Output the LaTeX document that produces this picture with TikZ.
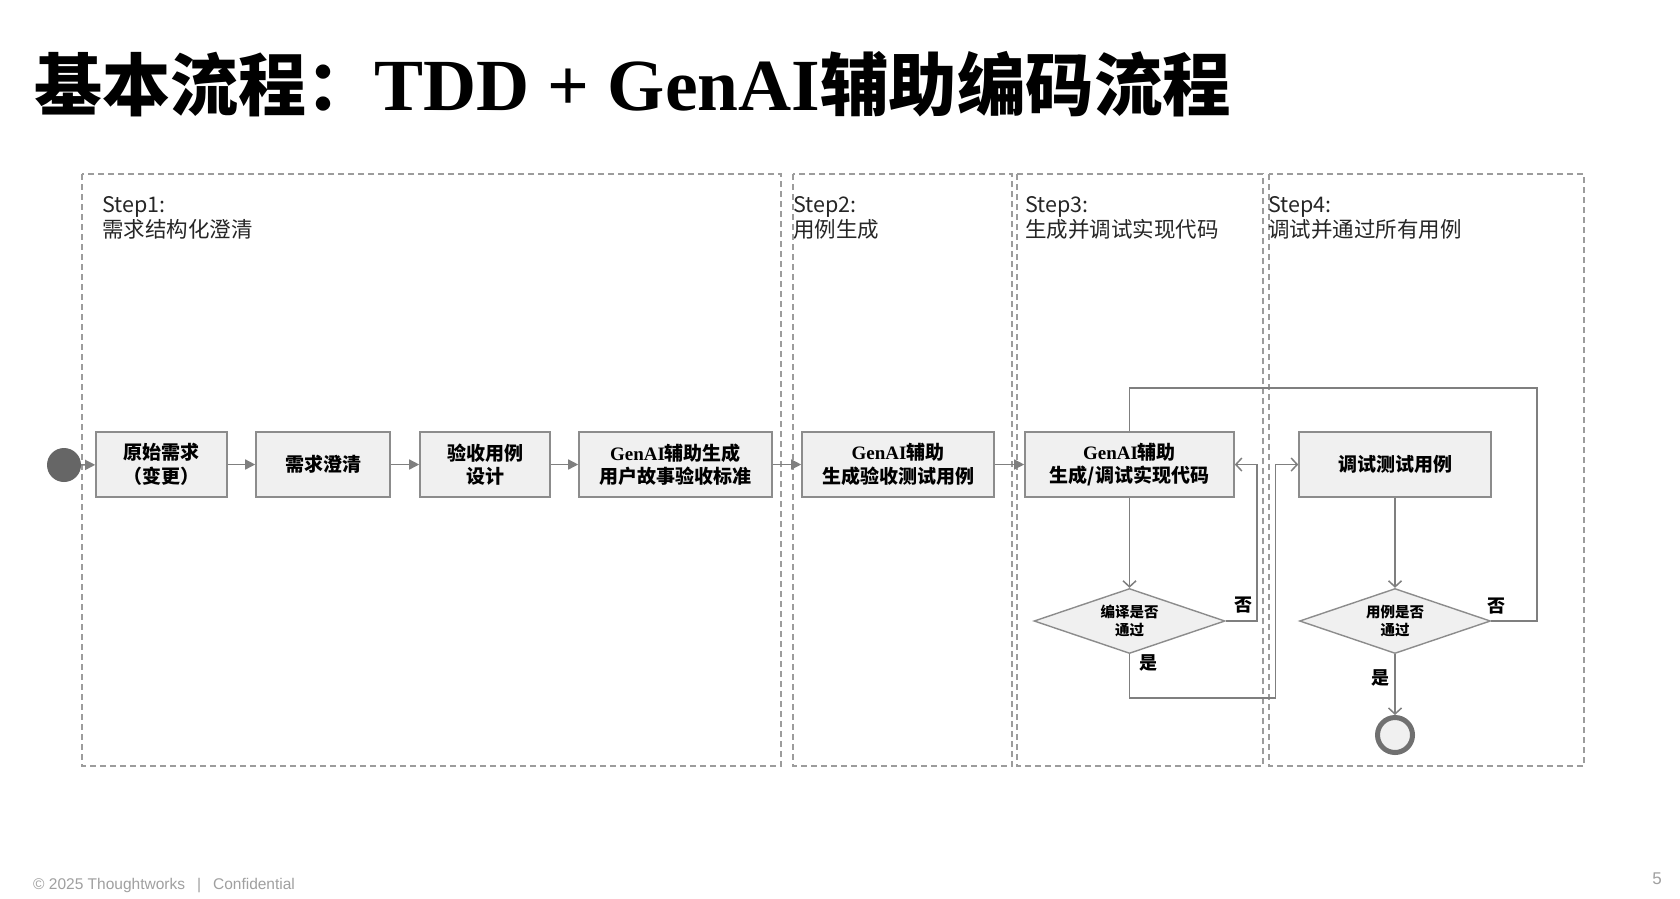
\documentclass[tikz,border=0pt]{standalone}
\usepackage{fontspec}
\setmainfont{Liberation Serif}
\newfontfamily\cjk{Noto Sans CJK SC}
\newfontfamily\lserif{Liberation Serif}
\newfontfamily\lsans{Liberation Sans}
\usetikzlibrary{arrows.meta,shapes.geometric}
\definecolor{linegray}{HTML}{7F7F7F}
\definecolor{boxfill}{HTML}{F0F0F0}
\definecolor{boxdraw}{HTML}{8C8C8C}
\definecolor{dashgray}{HTML}{9C9C9C}
\definecolor{footgray}{HTML}{A0A0A0}
\definecolor{startgray}{HTML}{666666}
\definecolor{endgray}{HTML}{707070}
\begin{document}
\begin{tikzpicture}[x=1pt,y=-1pt,
  lane/.style={draw=dashgray, line width=1.5pt, dash pattern=on 6pt off 4pt},
  steplbl/.style={anchor=north west, inner sep=0pt, align=left, text=black!85,
    font=\cjk\fontsize{21.5}{25.5}\selectfont},
  box/.style={draw=boxdraw, fill=boxfill, line width=1.6pt, minimum height=65pt,
    inner sep=0pt, align=center, font=\cjk\bfseries\fontsize{19}{23.5}\selectfont},
  dec/.style={diamond, draw=boxdraw, fill=boxfill, line width=1.4pt, aspect=2.94,
    minimum width=191pt, minimum height=65pt, inner sep=0pt, align=center,
    font=\cjk\bfseries\fontsize{14.5}{17.5}\selectfont},
  flow/.style={draw=linegray, line width=1.5pt, -{Triangle[length=10pt,width=10pt]}},
  back/.style={draw=linegray, line width=1.5pt, -{Straight Barb[length=6pt,width=13pt]}},
  plain/.style={draw=linegray, line width=1.5pt},
  yn/.style={inner sep=0pt, font=\cjk\bfseries\fontsize{18}{18}\selectfont}
]
\useasboundingbox (0,0) rectangle (1680,898);
\fill[white] (0,0) rectangle (1680,898);

% title
\node[anchor=base west, inner sep=0pt] (title) at (34,110)
  {{\cjk\bfseries\fontsize{68}{68}\selectfont 基本流程：}{\lserif\bfseries\fontsize{73.5}{73.5}\selectfont TDD + GenAI}{\cjk\bfseries\fontsize{68.5}{68.5}\selectfont 辅助编码流程}};

% swimlanes
\draw[lane] (82,174) rectangle (781,766);
\draw[lane] (793,174) rectangle (1012,766);
\draw[lane] (1017,174) rectangle (1263,766);
\draw[lane] (1269,174) rectangle (1584,766);

\node[steplbl] (s1) at (102,196) {Step1:\\需求结构化澄清};
\node[steplbl] (s2) at (793,196) {Step2:\\用例生成};
\node[steplbl] (s3) at (1025,196) {Step3:\\生成并调试实现代码};
\node[steplbl] (s4) at (1268,196) {Step4:\\调试并通过所有用例};

% nodes
\node[circle, fill=startgray, minimum size=34pt, inner sep=0pt] (start) at (64,465) {};
\node[box, minimum width=131pt] (b1) at (161.5,464.5) {原始需求\\（变更）};
\node[box, minimum width=134pt] (b2) at (323,464.5) {需求澄清};
\node[box, minimum width=130pt] (b3) at (485,464.5) {验收用例\\设计};
\node[box, minimum width=193pt] (b4) at (675.5,464.5) {{\lserif GenAI}辅助生成\\用户故事验收标准};
\node[box, minimum width=192pt] (b5) at (898,464.5) {{\lserif GenAI}辅助\\生成验收测试用例};
\node[box, minimum width=209pt] (b6) at (1129.5,464.5) {{\lserif GenAI}辅助\\生成/调试实现代码};
\node[box, minimum width=192pt] (b7) at (1395,464.5) {调试测试用例};
\node[dec] (d1) at (1129.5,621) {编译是否\\通过};
\node[dec] (d2) at (1395,621) {用例是否\\通过};
\node[circle, draw=endgray, line width=5pt, fill=boxfill, minimum size=35pt, inner sep=0pt] (end) at (1395,735) {};

% bend points
\coordinate (noA) at (1257,621);
\coordinate (yesA) at (1275.5,698);
\coordinate (noB) at (1537,388);

% connectors
\draw[flow] (start) -- (b1);
\draw[flow] (b1) -- (b2);
\draw[flow] (b2) -- (b3);
\draw[flow] (b3) -- (b4);
\draw[flow] (b4) -- (b5);
\draw[flow] (b5) -- (b6);
\draw[back] (b6) -- (d1);
\draw[back] (d1.east) -- (noA) |- (b6.east);
\draw[back] (d1.south) |- (yesA) |- (b7.west);
\draw[back] (b7) -- (d2);
\draw[plain] (d2.east) -| (noB) -| (b6.north);
\draw[back] (d2.south) -- (end.north);

% yes/no labels
\node[yn] (n1) at (1243,605) {否};
\node[yn] (y1) at (1148,663) {是};
\node[yn] (n2) at (1496,606) {否};
\node[yn] (y2) at (1380,678) {是};

% footer
\node[anchor=west, inner sep=0pt, text=footgray, font=\lsans\fontsize{15.5}{16}\selectfont] (foot) at (33,886)
  {© 2025 Thoughtworks\hspace{12pt}|\hspace{12pt}Confidential};
\node[anchor=base, inner sep=0pt, text=footgray, font=\lsans\fontsize{17}{17}\selectfont] (page) at (1657,884) {5};
\end{tikzpicture}
\end{document}
